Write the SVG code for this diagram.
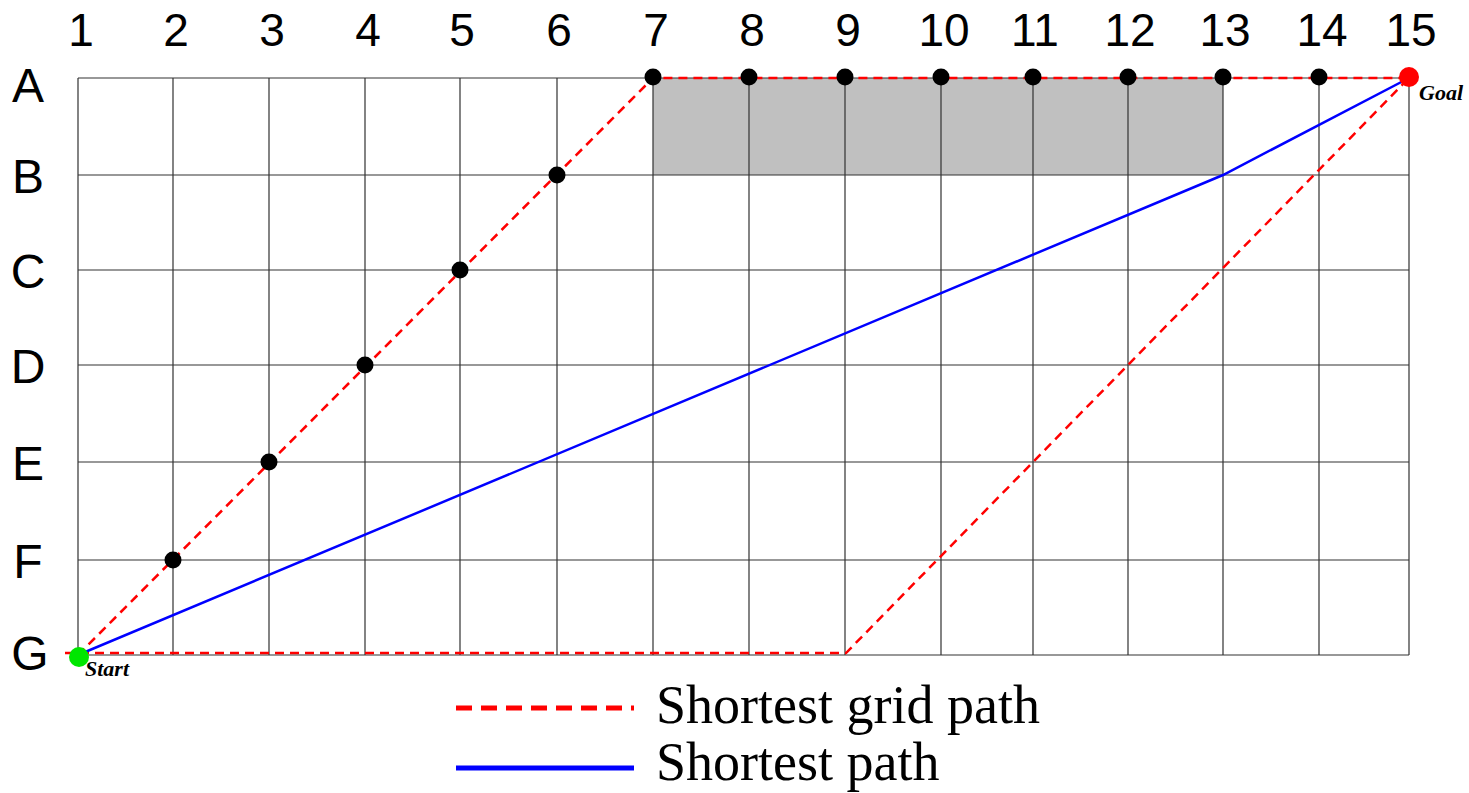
<svg xmlns="http://www.w3.org/2000/svg" width="1469" height="793" viewBox="0 0 1469 793">
<style>
.g{stroke:#333;stroke-width:1.2;fill:none}
.lbl{font-family:"Liberation Sans",Arial,sans-serif;font-size:46px;fill:#000;text-anchor:middle}
.row{font-size:48px}
.red{stroke:#f00;stroke-width:2.5;stroke-dasharray:9,6;fill:none}
.blue{stroke:#00f;stroke-width:2.5;fill:none}
.dot{fill:#000}
.tag{font-family:"Liberation Serif","Times New Roman",serif;font-style:italic;font-weight:bold;font-size:22px;fill:#000}
.leg{font-family:"Liberation Serif","Times New Roman",serif;font-size:54px;fill:#000}
</style>
<rect width="1469" height="793" fill="#fff"/>
<g id="obstacle"><rect x="653" y="78" width="570" height="97" fill="#c0c0c0"/></g>
<g id="grid">
<path class="g" d="M78 78H1409M78 175H1409M78 270H1409M78 365H1409M78 462H1409M78 560H1409M78 655H1409"/>
<path class="g" d="M78 78V655M173 78V655M269 78V655M365 78V655M460 78V655M557 78V655M653 78V655M749 78V655M845 78V655M941 78V655M1033 78V655M1128 78V655M1223 78V655M1319 78V655M1409 78V655"/>
</g>
<g id="col-labels" class="lbl">
<text x="81" y="46">1</text><text x="176" y="46">2</text><text x="272" y="46">3</text><text x="368" y="46">4</text><text x="462" y="46">5</text><text x="559" y="46">6</text><text x="656" y="46">7</text><text x="752" y="46">8</text><text x="848" y="46">9</text><text x="944" y="46">10</text><text x="1035" y="46">11</text><text x="1130" y="46">12</text><text x="1225" y="46">13</text><text x="1322" y="46">14</text><text x="1411" y="46">15</text>
</g>
<g id="row-labels" class="lbl row">
<text x="28" y="102">A</text><text x="28" y="193">B</text><text x="28" y="288">C</text><text x="28" y="383">D</text><text x="28" y="480">E</text><text x="28" y="578">F</text><text x="30" y="670">G</text>
</g>
<g id="connectors">
<path class="red" d="M78 655L653 78L1409 78"/>
<path class="red" d="M65 653L846 653L1409 78"/>
<path class="blue" d="M78 655L1223 175L1409 78"/>
</g>
<g id="waypoints">
<circle class="dot" cx="173" cy="560" r="8.5"/><circle class="dot" cx="269" cy="462" r="8.5"/><circle class="dot" cx="365" cy="365" r="8.5"/><circle class="dot" cx="460" cy="270" r="8.5"/><circle class="dot" cx="557" cy="175" r="8.5"/><circle class="dot" cx="653" cy="77" r="8.5"/><circle class="dot" cx="749" cy="77" r="8.5"/><circle class="dot" cx="845" cy="77" r="8.5"/><circle class="dot" cx="941" cy="77" r="8.5"/><circle class="dot" cx="1033" cy="77" r="8.5"/><circle class="dot" cx="1128" cy="77" r="8.5"/><circle class="dot" cx="1223" cy="77" r="8.5"/><circle class="dot" cx="1319" cy="77" r="8.5"/>
</g>
<g id="start"><circle cx="79" cy="657" r="10" fill="#00e600"/><text class="tag" x="85" y="676">Start</text></g>
<g id="goal"><circle cx="1409" cy="77" r="10" fill="#f00"/><text class="tag" x="1419" y="100">Goal</text></g>
<g id="legend">
<line x1="456" y1="708" x2="634" y2="708" stroke="#f00" stroke-width="5" stroke-dasharray="16,9"/>
<text class="leg" x="656" y="723">Shortest grid path</text>
<line x1="456" y1="768" x2="634" y2="768" stroke="#00f" stroke-width="5"/>
<text class="leg" x="656" y="780">Shortest path</text>
</g>
</svg>
